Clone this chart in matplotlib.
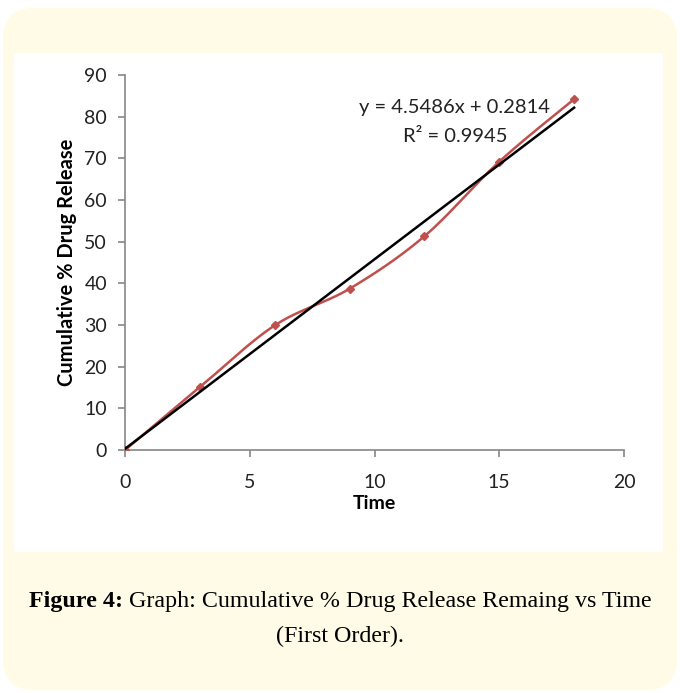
import numpy as np
import matplotlib
matplotlib.use("Agg")
import matplotlib.pyplot as plt
from matplotlib.patches import FancyBboxPatch, Rectangle

# Data
time = [0, 3, 6, 9, 12, 15, 18]
release = [0, 15.1, 29.9, 38.7, 51.3, 69.2, 84.2]
slope = 4.5486
intercept = 0.2814
r2 = 0.9945
x_ticks = [0, 5, 10, 15, 20]
y_ticks = [0, 10, 20, 30, 40, 50, 60, 70, 80, 90]

fig = plt.figure(figsize=(6.8, 6.93), dpi=100)
fig.patch.set_facecolor("white")

W, H = 680, 693
def fx(px): return px / W
def fy(py): return 1 - py / H

# outer rounded yellow box
bg = FancyBboxPatch((fx(3), fy(690)), fx(674), (690 - 8) / H,
                    boxstyle="round,pad=0,rounding_size=0.045",
                    transform=fig.transFigure, facecolor="#fffbe6",
                    edgecolor="none", zorder=0)
fig.patches.append(bg)
panel = Rectangle((fx(14), fy(552)), fx(649), (552 - 53) / H,
                  transform=fig.transFigure, facecolor="white",
                  edgecolor="none", zorder=1)
fig.patches.append(panel)

ax = fig.add_axes([fx(125), fy(450), fx(624) - fx(125), (450 - 75) / H])
ax.set_facecolor("none")
ax.set_zorder(2)

# Excel-style smoothed line (Bezier with 1/6 control points)
P = np.column_stack([time, release]).astype(float)
n = len(P)
curve = [P[0]]
t = np.linspace(0, 1, 30)[1:]
for i in range(n - 1):
    p0 = P[i - 1] if i > 0 else P[i]
    p1 = P[i]
    p2 = P[i + 1]
    p3 = P[i + 2] if i + 2 < n else P[i + 1]
    c1 = p1 + (p2 - p0) / 6
    c2 = p2 - (p3 - p1) / 6
    seg = ((1 - t)[:, None] ** 3 * p1 + 3 * (1 - t)[:, None] ** 2 * t[:, None] * c1
           + 3 * (1 - t)[:, None] * t[:, None] ** 2 * c2 + t[:, None] ** 3 * p2)
    curve.extend(seg)
curve = np.array(curve)

red = "#c0504d"
ax.plot(curve[:, 0], curve[:, 1], color=red, lw=1.8, zorder=3)
ax.plot(time, release, linestyle="none", marker="D", ms=4, color=red, zorder=4)

xt = np.array([time[0], time[-1]])
ax.plot(xt, slope * xt + intercept, color="black", lw=1.8, zorder=5)

ax.set_xlim(0, 20)
ax.set_ylim(0, 90)
ax.set_xticks(x_ticks)
ax.set_yticks(y_ticks)
for s in ["top", "right"]:
    ax.spines[s].set_visible(False)
for s in ["left", "bottom"]:
    ax.spines[s].set_color("#868686")
    ax.spines[s].set_linewidth(1.2)
ax.tick_params(axis="both", direction="out", length=5, width=1.2,
               color="#868686", labelsize=14, labelcolor="#222222")
ax.tick_params(axis="x", pad=12)
ax.tick_params(axis="y", pad=8)
for lab in ax.get_xticklabels() + ax.get_yticklabels():
    lab.set_fontfamily("Lato")

ax.set_xlabel("Time", fontsize=14, fontweight="bold", family="Lato", labelpad=3)
ax.set_ylabel("Cumulative % Drug Release", fontsize=14.5, fontweight="bold",
              family="Lato", labelpad=5)

fig.text(fx(455), fy(108), f"y = {slope}x + {intercept}", ha="center", va="center",
         fontsize=14.5, family="Lato", color="#222222", zorder=6)
fig.text(fx(455), fy(136), f"R² = {r2}", ha="center", va="center",
         fontsize=14.5, family="Lato", color="#222222", zorder=6)

# caption: bold part + regular part, centred as a whole
cap_fs = 17.3
t1 = fig.text(0, fy(602), "Figure 4:", ha="left", va="center", fontsize=cap_fs,
              fontweight="bold", family="Liberation Serif", zorder=6)
t2 = fig.text(0, fy(602), " Graph: Cumulative % Drug Release Remaing vs Time",
              ha="left", va="center", fontsize=cap_fs, family="Liberation Serif", zorder=6)
fig.canvas.draw()
r = fig.canvas.get_renderer()
w1 = t1.get_window_extent(r).width
w2 = t2.get_window_extent(r).width
start = (W - (w1 + w2)) / 2
t1.set_x(start / W)
t2.set_x((start + w1) / W)
fig.text(0.5, fy(636), "(First Order).", ha="center", va="center",
         fontsize=cap_fs, family="Liberation Serif", zorder=6)

fig.savefig("out.png", dpi=100)
